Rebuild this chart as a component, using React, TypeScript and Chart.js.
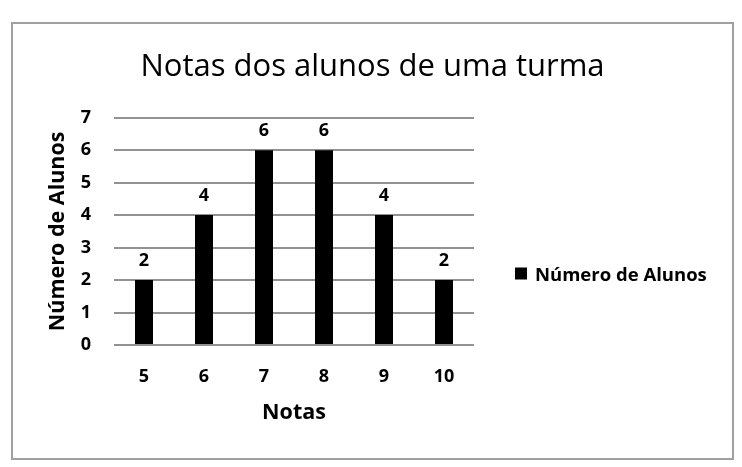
import { useEffect, useRef } from "react"
import { Chart, registerables } from "chart.js"

Chart.register(...registerables)

const notas = ["5", "6", "7", "8", "9", "10"]
const alunos = [2, 4, 6, 6, 4, 2]
const seriesName = "Número de Alunos"
const chartTitle = "Notas dos alunos de uma turma"
const xTitle = "Notas"
const yTitle = "Número de Alunos"

const FONT = "'Open Sans', sans-serif"

// draws the value above each bar
const barLabels = {
  id: "barLabels",
  afterDatasetsDraw(chart: Chart) {
    const ctx = chart.ctx
    const meta = chart.getDatasetMeta(0)
    ctx.save()
    ctx.fillStyle = "#000"
    ctx.font = `bold 18px ${FONT}`
    ctx.textAlign = "center"
    ctx.textBaseline = "middle"
    meta.data.forEach((bar: any, i: number) => {
      ctx.fillText(String(alunos[i]), bar.x, bar.y - 19)
    })
    ctx.restore()
  },
}

export default function App() {
  const chartRef = useRef<HTMLCanvasElement>(null)
  const chartInstance = useRef<Chart | null>(null)

  useEffect(() => {
    if (!chartRef.current) return
    if (chartInstance.current) chartInstance.current.destroy()

    chartInstance.current = new Chart(chartRef.current, {
      type: "bar",
      data: {
        labels: notas,
        datasets: [
          {
            label: seriesName,
            data: alunos,
            backgroundColor: "#000",
            barPercentage: 0.3,
            categoryPercentage: 1,
          },
        ],
      },
      options: {
        animation: false,
        responsive: true,
        maintainAspectRatio: false,
        layout: { padding: { left: 20, right: 20, top: 0, bottom: 32 } },
        plugins: {
          legend: { display: false },
          tooltip: { enabled: false },
          title: {
            display: true,
            text: chartTitle,
            color: "#000",
            font: { family: FONT, size: 31, weight: "normal" },
            padding: { top: 25, bottom: 31.5 },
          },
        },
        scales: {
          x: {
            afterFit(scale: any) {
              scale.height = 81
            },
            grid: { display: false, drawTicks: false },
            border: { display: false },
            ticks: {
              color: "#000",
              padding: 21,
              font: { family: FONT, size: 18, weight: "bold" },
            },
            title: {
              display: true,
              text: xTitle,
              color: "#000",
              font: { family: FONT, size: 21.5, weight: "bold" },
              padding: { top: 0, bottom: 0 },
            },
          },
          y: {
            min: 0,
            max: 7,
            afterFit(scale: any) {
              scale.width = 81
            },
            grid: { color: "#929292", lineWidth: 2, drawTicks: false },
            border: { display: false },
            ticks: {
              stepSize: 1,
              color: "#000",
              padding: 23,
              font: { family: FONT, size: 18, weight: "bold" },
            },
            title: {
              display: true,
              text: yTitle,
              color: "#000",
              font: { family: FONT, size: 21.5, weight: "bold" },
              padding: { top: 12, bottom: 0 },
            },
          },
          // empty right-hand box that keeps room for the legend
          y2: {
            position: "right",
            afterFit(scale: any) {
              scale.width = 238
            },
            grid: { display: false, drawTicks: false },
            border: { display: false },
            ticks: { display: false },
          },
        },
      },
      plugins: [barLabels],
    })

    return () => {
      if (chartInstance.current) {
        chartInstance.current.destroy()
        chartInstance.current = null
      }
    }
  }, [])

  return (
    <div
      style={{
        position: "absolute",
        left: 11,
        top: 22,
        width: 723,
        height: 438,
        border: "2px solid #a0a0a0",
        boxSizing: "border-box",
        background: "#fff",
      }}
    >
      <div style={{ position: "relative", width: "100%", height: "100%" }}>
        <canvas ref={chartRef} />
      </div>
      <div
        style={{
          position: "absolute",
          left: 502,
          top: 249,
          transform: "translateY(-50%)",
          display: "flex",
          alignItems: "center",
          gap: 8,
          fontFamily: FONT,
          fontWeight: "bold",
          fontSize: 18.5,
          color: "#000",
        }}
      >
        <span style={{ width: 12, height: 12, background: "#000", display: "inline-block" }} />
        <span>{seriesName}</span>
      </div>
    </div>
  )
}
